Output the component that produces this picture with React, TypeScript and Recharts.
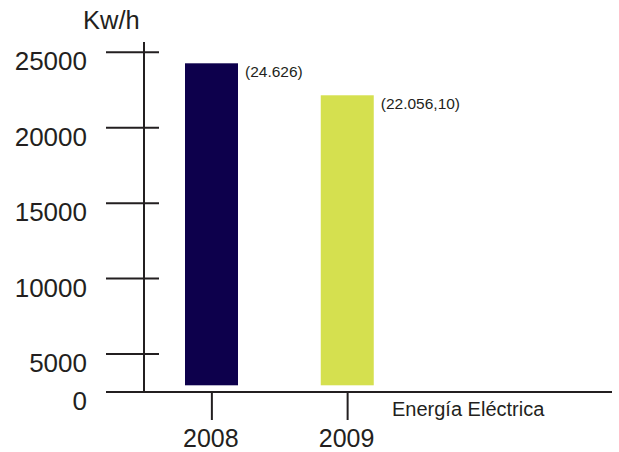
import React from "react";
import { BarChart, Bar, XAxis, YAxis, LabelList } from "recharts";

// Categories and values (bar heights)
const years = ["2008", "2009"];
const energyKwh = [24270, 22150];
const valueLabels = ["(24.626)", "(22.056,10)"];
const barColors = ["#0d004c", "#d5e04f"];

// Y axis: the axis is broken at the bottom, the baseline is labelled "0"
const yTickValues = [2483, 5000, 10000, 15000, 20000, 25000];
const yTickLabels = ["0", "5000", "10000", "15000", "20000", "25000"];
const yDomain: [number, number] = [2483, 25682];

const data = years.map((y, i) => ({ year: y, value: energyKwh[i], label: valueLabels[i], color: barColors[i] }));

const FONT = "'Liberation Sans', Arial, Helvetica, sans-serif";
const INK = "#231f20";

const YTick = (props: any) => {
  const { x, y, payload } = props;
  const idx = yTickValues.indexOf(payload.value);
  return (
    <g>
      <line x1={x - 38} x2={x + 15} y1={y} y2={y} stroke={INK} strokeWidth={2} />
      <text x={x - 57} y={y + 18} textAnchor="end" fontSize={26} fontFamily={FONT} fill={INK}>
        {idx >= 0 ? yTickLabels[idx] : payload.value}
      </text>
    </g>
  );
};

const XTick = (props: any) => {
  const { x, y, payload } = props;
  return (
    <g>
      <line x1={x} x2={x} y1={y} y2={y + 28} stroke={INK} strokeWidth={2} />
      <text x={x - 1} y={y + 55} textAnchor="middle" fontSize={25} fontFamily={FONT} fill={INK}>
        {payload.value}
      </text>
    </g>
  );
};

const BarShape = (props: any) => {
  const { x, y, width, height, payload } = props;
  return <rect x={x} y={y} width={width} height={Math.max(0, height - 6.7)} fill={payload.color} />;
};

const ValueLabel = (props: any) => {
  const { x, y, width, value } = props;
  return (
    <text x={x + width + 7} y={y + 14} fontSize={15.5} fontFamily={FONT} fill={INK}>
      {value}
    </text>
  );
};

export default function App() {
  return (
    <div style={{ position: "absolute", left: 0, top: 0, width: 619, height: 452, background: "#fff" }}>
      <BarChart width={619} height={452} data={data} margin={{ top: 42, right: 7, bottom: 30, left: 0 }}>
        <XAxis
          dataKey="year"
          height={30}
          padding={{ left: 0, right: 196.5 }}
          axisLine={{ stroke: INK, strokeWidth: 2 }}
          tickLine={false}
          tickSize={0}
          tickMargin={0}
          tick={<XTick />}
          interval={0}
          label={{
            content: (p: any) => (
              <text x={p.viewBox.x + 248} y={p.viewBox.y + 24} fontSize={20} fontFamily={FONT} fill={INK}>
                Energía Eléctrica
              </text>
            ),
          }}
        />
        <YAxis
          width={144}
          domain={yDomain}
          ticks={yTickValues}
          type="number"
          allowDataOverflow
          axisLine={{ stroke: INK, strokeWidth: 2 }}
          tickLine={false}
          tickSize={0}
          tickMargin={0}
          tick={<YTick />}
          interval={0}
          label={{
            content: (p: any) => (
              <text x={83} y={p.viewBox.y - 13} fontSize={25.5} fontFamily={FONT} fill={INK}>
                Kw/h
              </text>
            ),
          }}
        />
        <Bar dataKey="value" barSize={53} isAnimationActive={false} shape={<BarShape />}>
          <LabelList dataKey="label" content={<ValueLabel />} />
        </Bar>
      </BarChart>
    </div>
  );
}
